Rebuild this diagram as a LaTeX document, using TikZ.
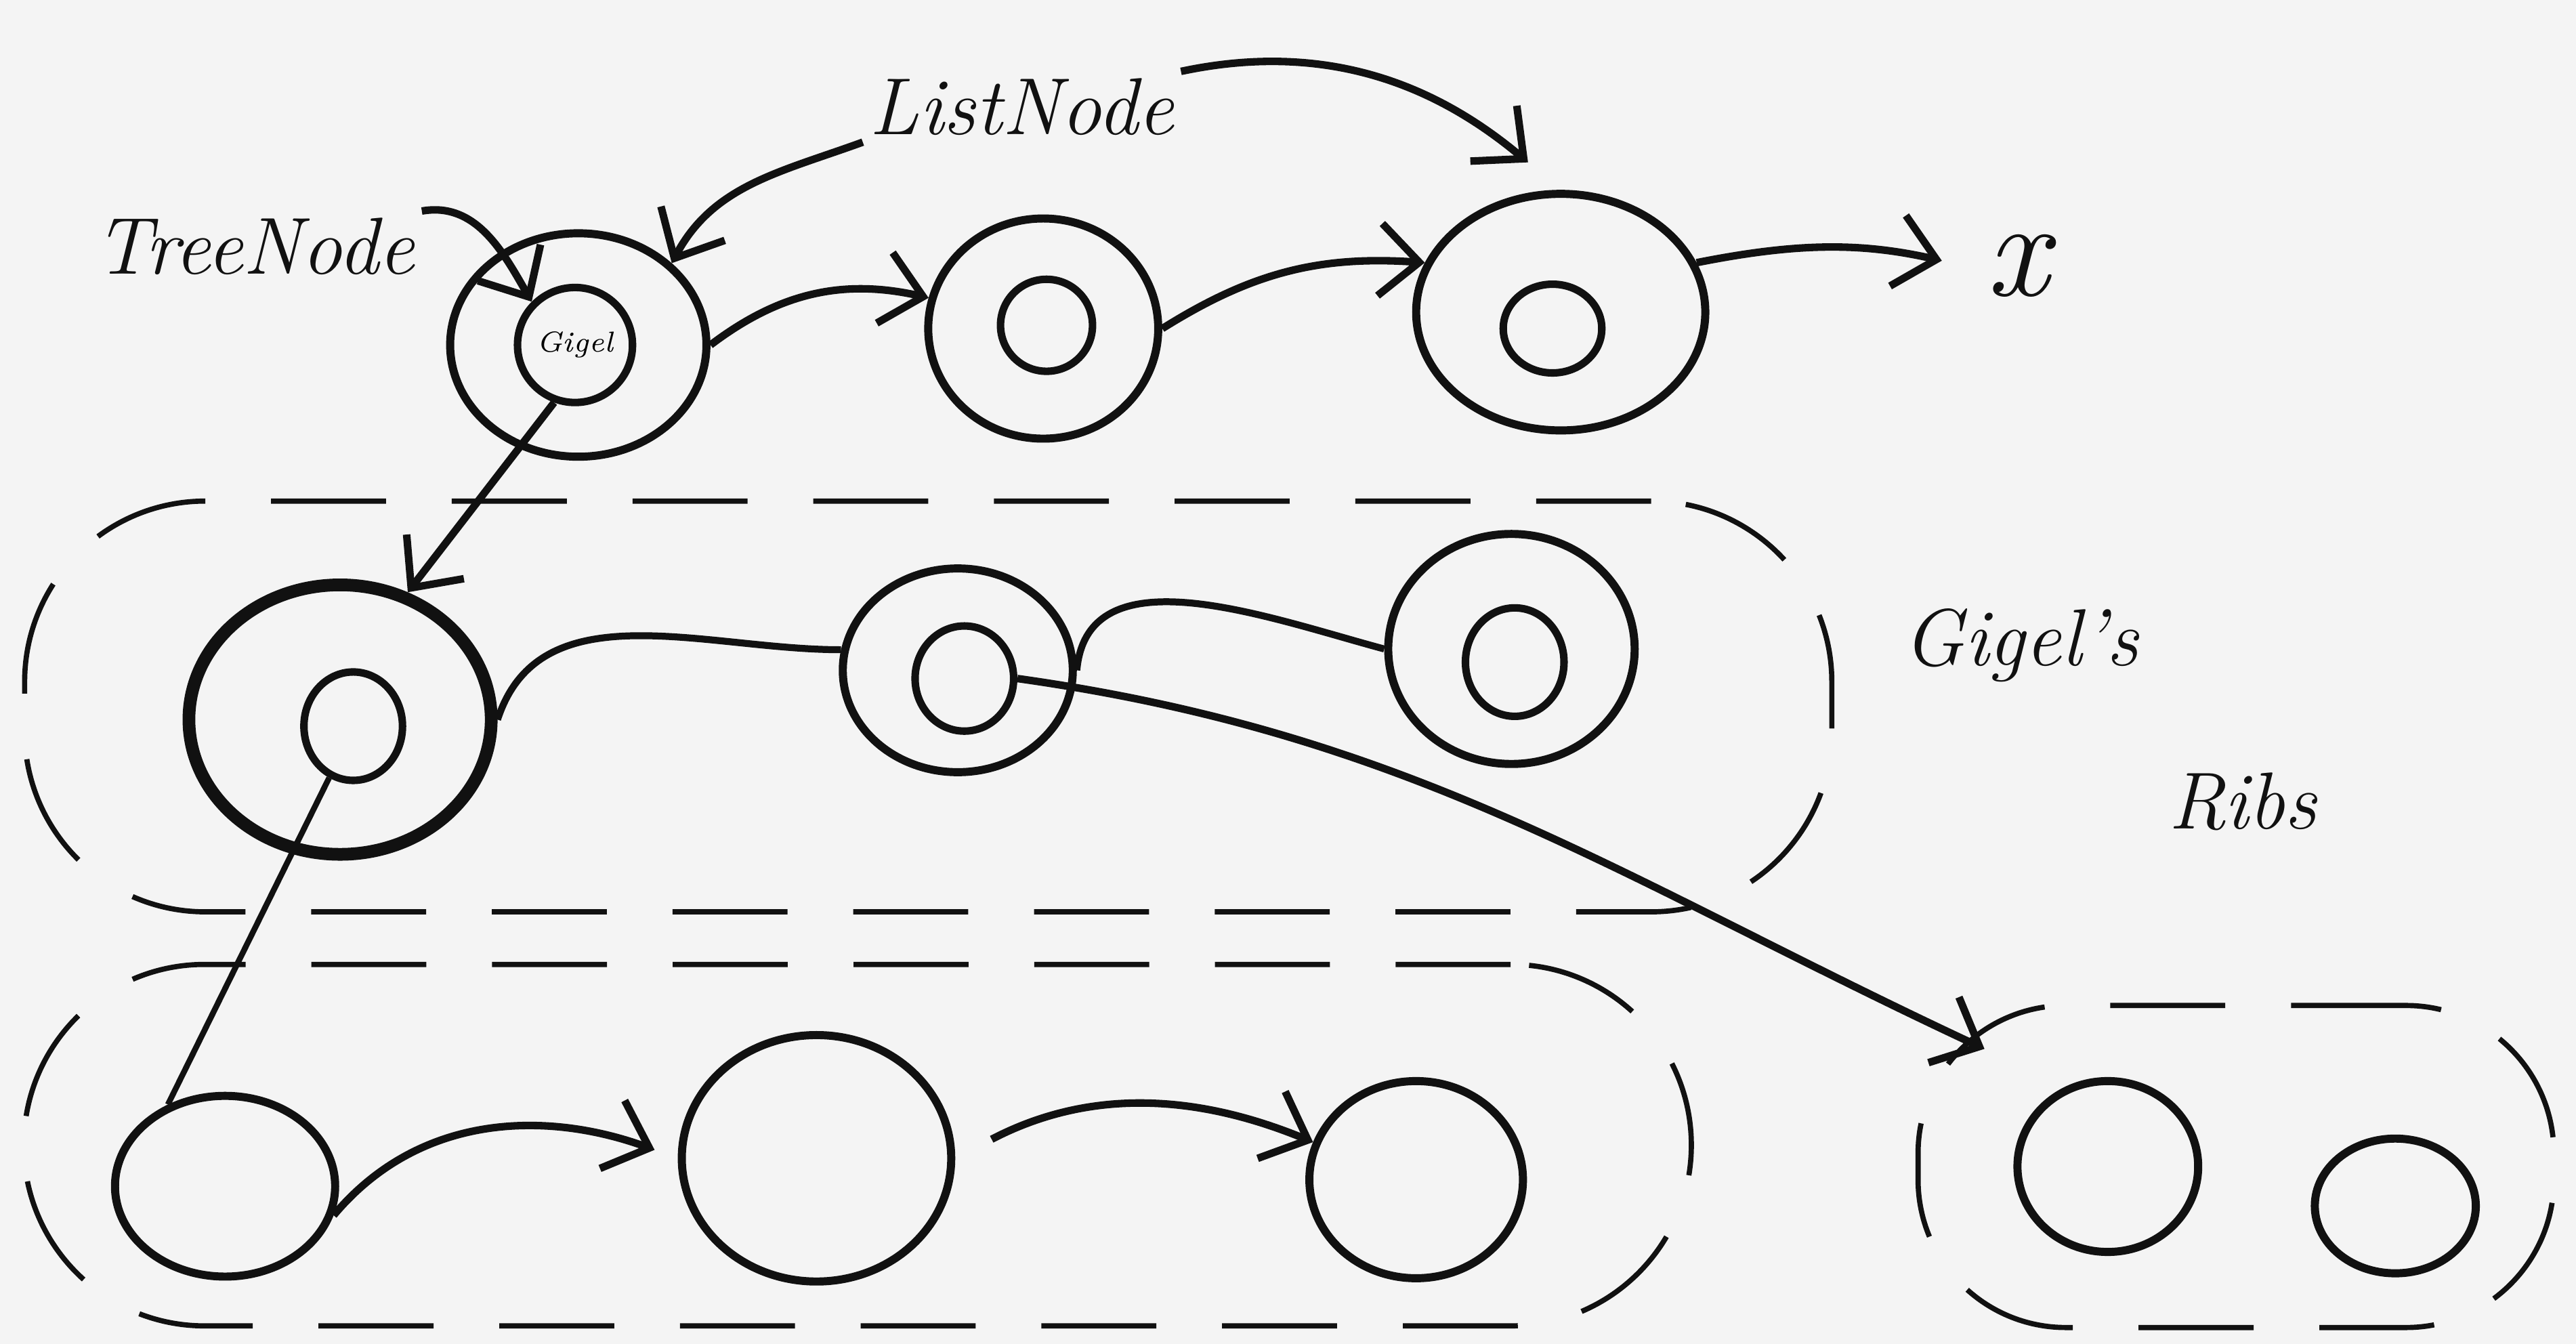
\documentclass[tikz,border=0pt]{standalone}
\usepackage{xcolor}
\usepackage{tikz}
\usetikzlibrary{shapes.geometric, arrows.meta, positioning, calc}
\definecolor{paper}{HTML}{F4F4F4}
\definecolor{ink}{HTML}{111111}
\tikzset{
  ring/.style={draw=ink, ellipse, line width=1.4pt, inner sep=0pt},
  core/.style={draw=ink, ellipse, line width=1.3pt, inner sep=0pt, font=\tiny\itshape},
  ribbox/.style={draw=ink, line width=0.9pt, dash pattern=on 7mm off 4mm, rounded corners=1.1cm},
  nextptr/.style={-{Straight Barb[length=2.4mm, width=4.4mm]}, line width=1.3pt, draw=ink},
  link/.style={line width=1.2pt, draw=ink},
  scrawl/.style={font=\fontsize{14}{16}\selectfont\itshape, text=ink, inner sep=1pt}
}

\begin{document}
\begin{tikzpicture}
  \fill[paper] (0,0) rectangle (15.68,8.18);
  \useasboundingbox (0,0) rectangle (15.68,8.18);

  % dashed groups of ribs
  \node[ribbox, minimum width=11cm, minimum height=2.5cm] at (5.65,3.88) (ribsMid) {};
  \node[ribbox, minimum width=10.15cm, minimum height=2.2cm] at (5.22,1.21) (ribsLow) {};
  \node[ribbox, minimum width=3.87cm, minimum height=1.96cm, rounded corners=0.9cm]
    at (13.61,1.08) (ribsRight) {};

  % list of tree nodes on top
  \node[ring, minimum width=15.6mm, minimum height=13.6mm] at (3.52,6.08) (head) {};
  \node[core, minimum size=7mm] at (3.50,6.08) (headcore) {Gigel};
  \node[ring, minimum width=14mm, minimum height=13.4mm] at (6.35,6.18) (list1) {};
  \node[core, minimum size=5.6mm] at (6.37,6.20) (list1core) {};
  \node[ring, minimum width=17.6mm, minimum height=14.4mm] at (9.50,6.28) (list2) {};
  \node[core, minimum width=6mm, minimum height=5.4mm] at (9.45,6.18) (list2core) {};
  \node[font=\fontsize{24}{26}\selectfont\itshape, text=ink] at (12.28,6.56) (nil) {x};

  \node[scrawl] at (1.55,6.68) (treelbl) {TreeNode};
  \node[scrawl] at (6.22,7.53) (listlbl) {ListNode};

  \draw[nextptr] (treelbl.north east) to[out=10, in=120] (headcore.north west);
  \draw[nextptr] (listlbl.south west) to[out=200, in=62] (head.north east);
  \draw[nextptr, shorten >=2.6mm] (listlbl.north east) to[out=12, in=140] (list2.north);

  \draw[nextptr] (head.east) to[bend left=25] (list1.165);
  \draw[nextptr] (list1.east) to[bend left=18] (list2.160);
  \draw[nextptr, shorten >=1.5mm] (list2.20) to[bend left=12] (nil.west);

  % middle ribs
  \node[ring, line width=2.2pt, minimum width=18.4mm, minimum height=16.4mm] at (2.07,3.80) (rib1) {};
  \node[core, minimum width=6mm, minimum height=6.6mm] at (2.15,3.76) (rib1core) {};
  \node[ring, minimum width=14mm, minimum height=12.4mm] at (5.83,4.10) (rib2) {};
  \node[core, minimum width=6mm, minimum height=6.4mm] at (5.87,4.05) (rib2core) {};
  \node[ring, minimum width=15mm, minimum height=14mm] at (9.20,4.23) (rib3) {};
  \node[core, minimum width=6mm, minimum height=6.6mm] at (9.22,4.15) (rib3core) {};

  \node[scrawl] at (12.30,4.25) (ribslbl) {Gigel's};
  \node[scrawl] at (13.65,3.30) (ribslbl2) {Ribs};

  \draw[nextptr] (headcore.250) -- (rib1.62);
  \draw[link] (rib1.east) to[out=72, in=180] (rib2.170);
  \draw[link] (rib2.east) to[out=85, in=165] (rib3.west);
  \draw[nextptr] (rib2core.east) to[out=-8, in=155] ($(ribsRight.north west)+(0.42,-0.28)$);

  % lowest ribs
  \node[ring, minimum width=13.4mm, minimum height=11mm] at (1.37,0.96) (leaf1) {};
  \node[ring, minimum width=16.4mm, minimum height=15mm] at (4.97,1.13) (leaf2) {};
  \node[ring, minimum width=13mm, minimum height=12mm] at (8.62,1.00) (leaf3) {};
  \node[ring, minimum width=11mm, minimum height=10.4mm] at (12.83,1.08) (leaf4) {};
  \node[ring, minimum width=9.8mm, minimum height=8.2mm] at (14.58,0.84) (leaf5) {};

  \draw[link, line width=1pt] (rib1core.245) -- (leaf1.125);
  \draw[nextptr, shorten >=1.5mm] (leaf1.-15) to[out=50, in=160] (leaf2.west);
  \draw[nextptr, shorten <=2.5mm] (leaf2.east) to[bend left=25] (leaf3.160);
\end{tikzpicture}
\end{document}
